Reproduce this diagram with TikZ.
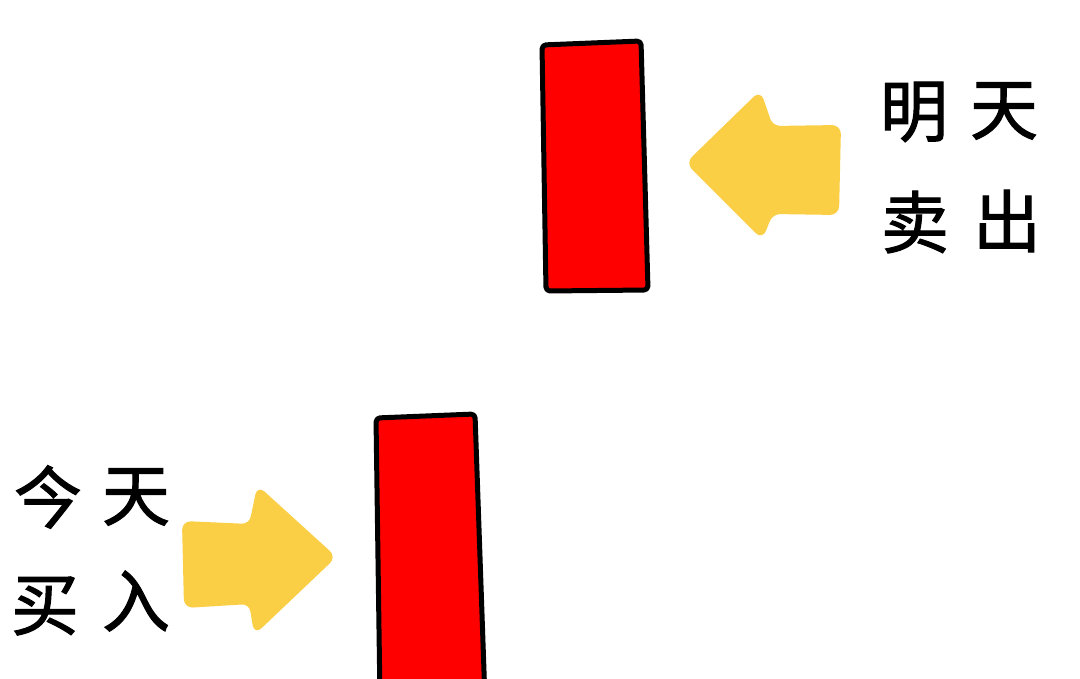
\documentclass[tikz,border=0pt]{standalone}
\usepackage{fontspec}
\newfontfamily\cjk[FakeBold=1.5]{Noto Sans CJK SC}
\definecolor{candlered}{RGB}{255,0,0}
\definecolor{arrowyellow}{RGB}{250,207,69}
\tikzset{
  candle/.style={fill=candlered, draw=black, line width=2.5pt, line join=round, rounded corners=2pt},
  fatarrow/.style={fill=arrowyellow, draw=arrowyellow, line width=1pt, line join=round, rounded corners=4pt},
  hanzi/.style={font=\cjk\fontsize{34}{34}\selectfont, inner sep=0pt}
}

\begin{document}
\begin{tikzpicture}[x=0.5pt,y=-0.5pt]
\useasboundingbox (0,0) rectangle (1080,679);
\clip (0,0) rectangle (1080,679);
\fill[white] (0,0) rectangle (1080,679);

% candles
\filldraw[candle] (542,45) -- (641,41) -- (648,290) -- (546,291) -- cycle;
\filldraw[candle] (376,418) -- (475,414) -- (485,700) -- (380,700) -- cycle;

% arrows
\filldraw[fatarrow] (687,163) -- (760,92) -- (772,127) -- (840,126) -- (838,214) -- (772,213) -- (762,238) -- cycle;
\filldraw[fatarrow] (335,557) -- (258,487) -- (250,525) -- (183,522) -- (185,607) -- (250,603) -- (255,633) -- cycle;

% sell tomorrow
\node[hanzi] (ming) at (914,112) {明};
\node[hanzi] (tian1) at (1004,111) {天};
\node[hanzi] (mai1) at (915,222) {卖};
\node[hanzi] (chu) at (1007,221) {出};

% buy today
\node[hanzi] (jin) at (48,497) {今};
\node[hanzi] (tian2) at (136,497) {天};
\node[hanzi] (mai2) at (45,606) {买};
\node[hanzi] (ru) at (136,601) {入};
\end{tikzpicture}
\end{document}
